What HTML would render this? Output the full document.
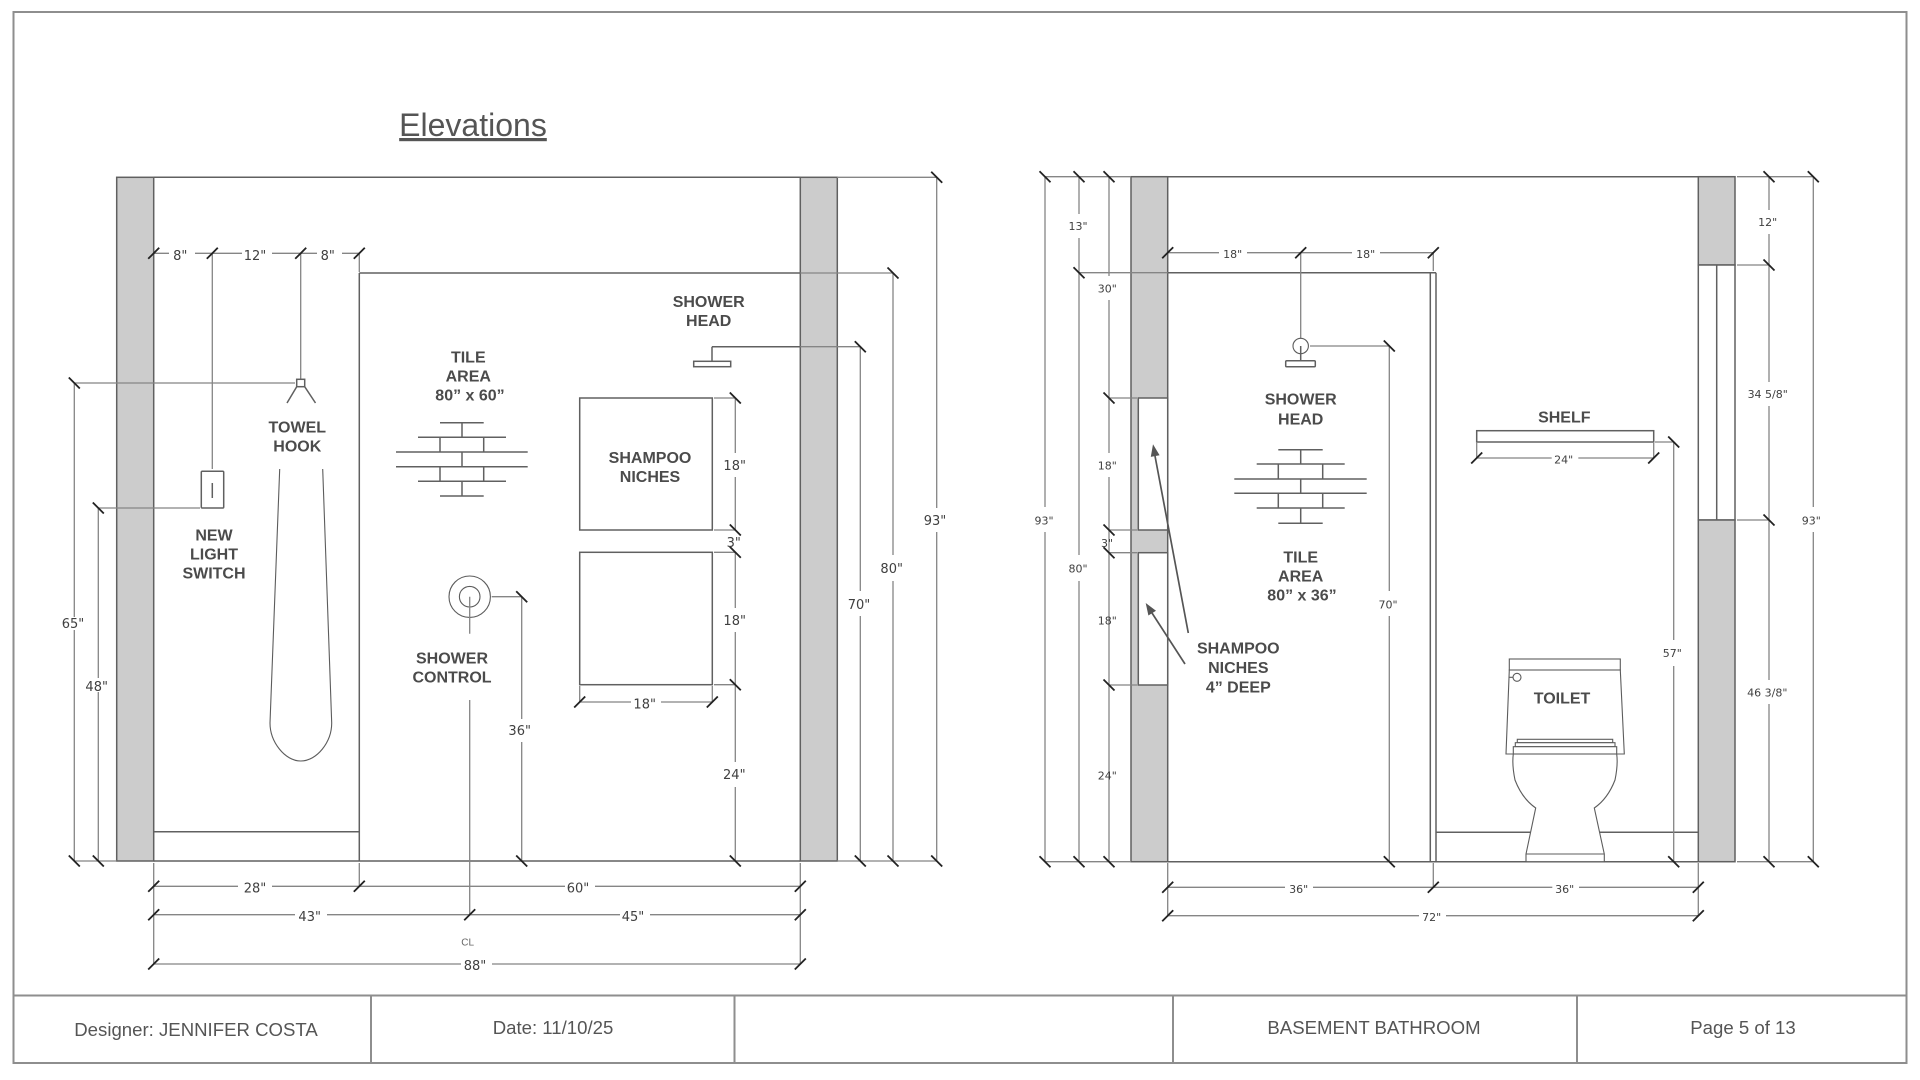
<!DOCTYPE html>
<html><head><meta charset="utf-8"><title>Elevations</title>
<style>
html,body{margin:0;padding:0;background:#fff;width:1920px;height:1080px;overflow:hidden}
svg{display:block;filter:blur(.3px)}
.m{fill:none;stroke:#606060;stroke-width:1.5}
.w{fill:#ccc;stroke:#606060;stroke-width:1.5}
.wh{fill:#fff;stroke:#606060;stroke-width:1.5}
.d{fill:none;stroke:#858585;stroke-width:1.3}
.f{fill:none;stroke:#8e8e8e;stroke-width:2}
.t{fill:none;stroke:#222;stroke-width:1.8}
.th{fill:none;stroke:#5c5c5c;stroke-width:1.1}
text{text-anchor:middle}
.l{font:bold 16px "Liberation Sans",sans-serif;fill:#4b4b4b}
.n{font:13px "DejaVu Sans",sans-serif;fill:#404040}
.s{font:11px "DejaVu Sans",sans-serif;fill:#404040}
.ft{font:18.6px "Liberation Sans",sans-serif;fill:#555}
</style></head><body>
<svg width="1920" height="1080" viewBox="0 0 1920 1080" xmlns="http://www.w3.org/2000/svg">
<defs>
<path id="b" class="t" d="M-5.5 -5.5L5.5 5.5"/>
<path id="a" class="t" d="M-5.5 5.5L5.5 -5.5"/>
</defs>
<rect width="1920" height="1080" fill="#fff"/>
<!-- frame -->
<rect class="f" x="13.5" y="12" width="1893" height="1051"/>
<path class="f" d="M13.5 995.5H1906.5M371 995.5V1063M734.5 995.5V1063M1173 995.5V1063M1577 995.5V1063"/>
<text class="ft" x="196" y="1036">Designer: JENNIFER COSTA</text>
<text class="ft" x="553" y="1034">Date: 11/10/25</text>
<text class="ft" x="1374" y="1034">BASEMENT BATHROOM</text>
<text class="ft" x="1743" y="1034">Page 5 of 13</text>
<text x="473" y="136" style="font:32px 'Liberation Sans',sans-serif;fill:#555;text-decoration:underline">Elevations</text>

<!-- LEFT ELEVATION -->
<rect class="w" x="116.7" y="177.3" width="37" height="683.7"/>
<rect class="w" x="800.3" y="177.3" width="37" height="683.7"/>
<path class="m" d="M153.7 177.3H800.3M153.7 861H800.3M359.3 273H800.3M359.3 273V861M153.7 831.7H359.3"/>
<path class="d" d="M837 177.3H936.7M800.3 273H893M730 346.7H860.3M74.3 861H116.7M837 861H936.7M74.3 383H295M98.3 508H200"/>
<path class="m" d="M712 346.7H800.3M712 346.7V361.3"/>
<rect class="m" x="693.7" y="361.3" width="37" height="5.4"/>
<!-- top dims -->
<path class="d" d="M153.7 253.3H169M195 253.3H242M272 253.3H317M342 253.3H359.3M359.3 253.3V272M212.3 253.3V469M300.7 253.3V379"/>
<use href="#a" x="153.7" y="253.3"/><use href="#a" x="212.3" y="253.3"/><use href="#a" x="300.7" y="253.3"/><use href="#a" x="359.3" y="253.3"/>
<text class="n" x="180.3" y="260">8"</text><text class="n" x="255" y="260">12"</text><text class="n" x="327.7" y="260">8"</text>
<!-- hook -->
<rect class="m" x="296.7" y="379.3" width="8" height="7.4"/>
<path class="m" d="M296.7 386.7L287 403M304.7 386.7L315.5 403"/>
<text class="l" x="297.3" y="432.4">TOWEL</text><text class="l" x="297.3" y="451.4">HOOK</text>
<!-- switch -->
<rect class="m" x="201.3" y="471.3" width="22.4" height="36.7" rx="1"/>
<path class="m" d="M212.3 483V498"/>
<text class="l" x="214" y="540.7">NEW</text><text class="l" x="214" y="559.7">LIGHT</text><text class="l" x="214" y="578.7">SWITCH</text>
<!-- towel -->
<path class="th" d="M279.7 469L270 723C270 742 285 761 300.7 761C317 761 331.7 742 331.7 723L322.7 469"/>
<!-- left vertical dims -->
<path class="d" d="M74.3 383V617M74.3 630V861M98.3 508V678M98.3 692V861"/>
<use href="#b" x="74.3" y="383"/><use href="#b" x="98.3" y="508"/><use href="#b" x="74.3" y="861"/><use href="#b" x="98.3" y="861"/>
<text class="n" x="73" y="628">65"</text><text class="n" x="96.7" y="691">48"</text>
<!-- tile icon -->
<path class="m" d="M440 422.7H483.7M418 437.3H506M396 452H527.7M396 466.7H527.7M418 481.3H506M440 496H483.7M462 422.7V437.3M462 452V466.7M462 481.3V496M440 437.3V452M483.7 437.3V452M440 466.7V481.3M483.7 466.7V481.3"/>
<text class="l" x="468.3" y="362.7">TILE</text><text class="l" x="468.3" y="381.7">AREA</text><text class="l" x="470" y="400.7">80” x 60”</text>
<!-- control -->
<circle class="th" cx="469.7" cy="596.7" r="20.7"/><circle class="th" cx="469.7" cy="596.7" r="10.3"/>
<path class="d" d="M469.7 596.7V633.7M469.7 700V914.7M491.7 596.7H521.7M521.7 596.7V719M521.7 742V861"/>
<use href="#b" x="521.7" y="596.7"/><use href="#b" x="521.7" y="861"/>
<text class="l" x="452" y="663.4">SHOWER</text><text class="l" x="452" y="682.4">CONTROL</text>
<text class="n" x="519.7" y="735">36"</text>
<!-- niches -->
<rect class="m" x="579.7" y="398" width="132.6" height="132"/>
<rect class="m" x="579.7" y="552.3" width="132.6" height="132.4"/>
<text class="l" x="650" y="463">SHAMPOO</text><text class="l" x="650" y="482">NICHES</text>
<path class="d" d="M714 398H735.3M714 530H735.3M714 552.3H735.3M714 684.7H735.3M735.3 398V453M735.3 477V530M735.3 552.3V608M735.3 632V684.7M735.3 684.7V762M735.3 787V861"/>
<use href="#b" x="735.3" y="398"/><use href="#b" x="735.3" y="530"/><use href="#b" x="735.3" y="552.3"/><use href="#b" x="735.3" y="684.7"/><use href="#b" x="735.3" y="861"/>
<text class="n" x="734.7" y="470">18"</text><text class="n" x="733.7" y="547">3"</text><text class="n" x="734.7" y="625">18"</text><text class="n" x="734.3" y="779">24"</text>
<path class="d" d="M579.7 686V702M712.3 686V702M579.7 702H631M661 702H712.3"/>
<use href="#a" x="579.7" y="702"/><use href="#a" x="712.3" y="702"/>
<text class="n" x="644.7" y="708.5">18"</text>
<!-- shower head -->
<text class="l" x="708.7" y="307">SHOWER</text><text class="l" x="708.7" y="326">HEAD</text>
<!-- right dims -->
<path class="d" d="M936.7 177.3V508M936.7 532V861M893 273V555M893 581V861M860.3 346.7V591M860.3 616V861"/>
<use href="#b" x="936.7" y="177.3"/><use href="#b" x="893" y="273"/><use href="#b" x="860.3" y="346.7"/><use href="#b" x="936.7" y="861"/><use href="#b" x="893" y="861"/><use href="#b" x="860.3" y="861"/>
<text class="n" x="935" y="525">93"</text><text class="n" x="891.7" y="573">80"</text><text class="n" x="859" y="609">70"</text>
<!-- bottom dims -->
<path class="d" d="M153.7 863V964M359.3 863V886.3M800.3 863V964M153.7 886.3H238M272 886.3H565M595 886.3H800.3M153.7 914.7H295M327 914.7H620M650 914.7H800.3M153.7 964H461M492 964H800.3"/>
<use href="#a" x="153.7" y="886.3"/><use href="#a" x="359.3" y="886.3"/><use href="#a" x="800.3" y="886.3"/><use href="#a" x="153.7" y="914.7"/><use href="#a" x="469.7" y="914.7"/><use href="#a" x="800.3" y="914.7"/><use href="#a" x="153.7" y="964"/><use href="#a" x="800.3" y="964"/>
<text class="n" x="255" y="892.7">28"</text><text class="n" x="578" y="892.7">60"</text><text class="n" x="309.7" y="921">43"</text><text class="n" x="633" y="921">45"</text><text class="n" x="475" y="970">88"</text>
<text x="467.7" y="945.5" style="font:10px 'Liberation Sans',sans-serif;fill:#666">CL</text>

<!-- RIGHT ELEVATION -->
<rect class="w" x="1131" y="176.7" width="36.7" height="685"/>
<rect class="wh" x="1138.3" y="398" width="29.4" height="132"/>
<rect class="wh" x="1138.3" y="552.7" width="29.4" height="132.3"/>
<rect class="w" x="1698.3" y="176.7" width="36.7" height="88.3"/>
<rect class="wh" x="1698.3" y="265" width="36.7" height="255"/>
<rect class="w" x="1698.3" y="520" width="36.7" height="341.7"/>
<path class="m" d="M1716.7 265V520M1167.7 176.7H1698.3M1167.7 861.7H1698.3M1167.7 272.7H1436M1430.3 272.7V861.7M1436 272.7V861.7M1436 832.3H1698.3"/>
<path class="d" d="M1045 176.7H1131M1079 272.7H1167.7M1109 398H1137M1109 530H1137M1109 552.7H1137M1109 685H1137M1045 861.7H1131M1737 176.7H1813.3M1737 265H1769M1737 520H1769M1737 861.7H1813.3"/>
<!-- left dims -->
<path class="d" d="M1045 176.7V507M1045 532V861.7M1079 176.7V214M1079 238V555M1079 581V861.7M1109 176.7V276M1109 300V453M1109 477V861.7"/>
<use href="#b" x="1045" y="176.7"/><use href="#b" x="1079" y="176.7"/><use href="#b" x="1109" y="176.7"/><use href="#b" x="1079" y="272.7"/><use href="#b" x="1109" y="398"/><use href="#b" x="1109" y="530"/><use href="#b" x="1109" y="552.7"/><use href="#b" x="1109" y="685"/><use href="#b" x="1045" y="861.7"/><use href="#b" x="1079" y="861.7"/><use href="#b" x="1109" y="861.7"/>
<text class="s" x="1044" y="524.5">93"</text><text class="s" x="1078" y="230">13"</text><text class="s" x="1078" y="572.5">80"</text><text class="s" x="1107.3" y="292.5">30"</text><text class="s" x="1107.3" y="469.5">18"</text><text class="s" x="1107" y="547">3"</text><text class="s" x="1107.3" y="624.5">18"</text><text class="s" x="1107.3" y="779.5">24"</text>
<!-- arrows -->
<path d="M1188.3 633L1155 456M1185 664L1152 613" fill="none" stroke="#555" stroke-width="1.7"/>
<path d="M1153 444.3L1159.6 455.3L1150.8 456.9Z M1145.7 603L1156 610.7L1148.4 615.5Z" fill="#555"/>
<text class="l" x="1238.3" y="653.4">SHAMPOO</text><text class="l" x="1238.3" y="673">NICHES</text><text class="l" x="1238.3" y="692.4">4” DEEP</text>
<!-- top dims -->
<path class="d" d="M1167.7 252.7H1219M1247 252.7H1352M1380 252.7H1433.3M1433.3 252.7V271M1300.7 252.7V338M1310 346H1389.3M1389.3 346V591M1389.3 616V861.7"/>
<use href="#a" x="1167.7" y="252.7"/><use href="#a" x="1300.7" y="252.7"/><use href="#a" x="1433.3" y="252.7"/><use href="#b" x="1389.3" y="346"/><use href="#b" x="1389.3" y="861.7"/>
<text class="s" x="1232.7" y="258">18"</text><text class="s" x="1365.7" y="258">18"</text><text class="s" x="1388" y="608.5">70"</text>
<circle class="th" cx="1300.7" cy="346" r="7.7"/>
<path class="m" d="M1300.7 346V360.7"/>
<rect class="m" x="1285.7" y="360.7" width="29.6" height="6" rx="1"/>
<text class="l" x="1300.7" y="404.7">SHOWER</text><text class="l" x="1300.7" y="424.7">HEAD</text>
<path class="m" d="M1278.3 449.7H1322.7M1256.7 464H1344.7M1234.3 479H1366.7M1234.3 493.3H1366.7M1256.7 508H1344.7M1278.3 523.3H1322.7M1300.7 449.7V464M1300.7 479V493.3M1300.7 508V523.3M1278.3 464V479M1322.7 464V479M1278.3 493.3V508M1322.7 493.3V508"/>
<text class="l" x="1300.7" y="562.4">TILE</text><text class="l" x="1300.7" y="581.4">AREA</text><text class="l" x="1302" y="600.7">80” x 36”</text>
<!-- shelf -->
<rect class="m" x="1476.7" y="430.7" width="177" height="11.3"/>
<text class="l" x="1564.3" y="422.4">SHELF</text>
<path class="d" d="M1476.7 443V458M1653.7 443V458M1476.7 458H1551.7M1578.3 458H1653.7M1655 442H1673.7M1673.7 442V640M1673.7 666V861.7"/>
<use href="#a" x="1476.7" y="458"/><use href="#a" x="1653.7" y="458"/><use href="#b" x="1673.7" y="442"/><use href="#b" x="1673.7" y="861.7"/>
<text class="s" x="1563.7" y="463.7">24"</text><text class="s" x="1672.3" y="657">57"</text>
<!-- toilet -->
<g>
<path class="th" style="fill:#fff" d="M1509.3 670L1506 754H1624.3L1620.3 670Z"/>
<rect class="th" style="fill:#fff" x="1509.3" y="659" width="111" height="11"/>
<path class="th" style="fill:#fff" d="M1513.3 754C1512.5 760 1512.5 768 1515 780C1520 793 1527 802 1535.7 808L1526 854V861.7H1604.3V854L1594.3 808C1603 802 1610 793 1615 780C1617.5 768 1617.5 760 1616.7 754Z"/>
<rect class="th" style="fill:#fff" x="1517.3" y="739.3" width="95.4" height="3.4"/>
<rect class="th" style="fill:#fff" x="1515.3" y="742.7" width="99.7" height="4"/>
<rect class="th" style="fill:#fff" x="1513.3" y="746.7" width="103.4" height="7.3"/>
<circle class="th" style="fill:#fff" cx="1517" cy="677.3" r="4"/>
</g>
<path class="th" d="M1509.3 677.3H1513M1526 854H1604.3"/>
<text class="l" x="1562" y="703.7">TOILET</text>
<!-- right dims -->
<path class="d" d="M1769 176.7V210M1769 234V382M1769 406V680M1769 704V861.7M1813.3 176.7V507M1813.3 532V861.7"/>
<use href="#b" x="1769" y="176.7"/><use href="#b" x="1813.3" y="176.7"/><use href="#b" x="1769" y="265"/><use href="#b" x="1769" y="520"/><use href="#b" x="1769" y="861.7"/><use href="#b" x="1813.3" y="861.7"/>
<text class="s" x="1767.7" y="226">12"</text><text class="s" x="1767.7" y="398">34 5/8"</text><text class="s" x="1767.3" y="696.5">46 3/8"</text><text class="s" x="1811.3" y="524.5">93"</text>
<!-- bottom dims -->
<path class="d" d="M1167.7 863V915.7M1433.3 863V887.3M1698.3 863V915.7M1167.7 887.3H1285M1313 887.3H1552.3M1579 887.3H1698.3M1167.7 915.7H1419M1446 915.7H1698.3"/>
<use href="#a" x="1167.7" y="887.3"/><use href="#a" x="1433.3" y="887.3"/><use href="#a" x="1698.3" y="887.3"/><use href="#a" x="1167.7" y="915.7"/><use href="#a" x="1698.3" y="915.7"/>
<text class="s" x="1298.7" y="893">36"</text><text class="s" x="1564.7" y="893">36"</text><text class="s" x="1431.7" y="921">72"</text>
</svg>
</body></html>
